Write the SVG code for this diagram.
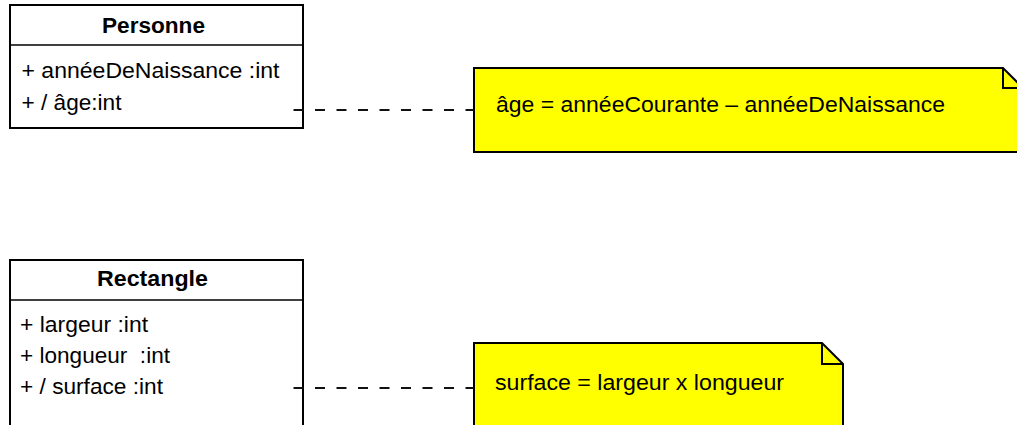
<svg xmlns="http://www.w3.org/2000/svg" width="1017" height="425" viewBox="0 0 1017 425">
<style>
.box{fill:#ffffff;stroke:#000;stroke-width:2}
.sep{stroke:#000;stroke-width:1.6}
.note{fill:#ffff00;stroke:#000;stroke-width:2;stroke-linejoin:miter}
.fold{fill:none;stroke:#000;stroke-width:2}
.t{font-family:"Liberation Sans",Arial,sans-serif;font-size:22px;fill:#000}
.b{font-weight:bold}
.dash{stroke:#111;stroke-width:1.8;stroke-dasharray:10 11.5;fill:none}
</style>
<rect width="1017" height="425" fill="#ffffff"/>
<g id="personne">
<rect class="box" x="10" y="5" width="293" height="123"/>
<line class="sep" x1="10" y1="45" x2="303" y2="45"/>
<text class="t b" x="102" y="33" textLength="103" lengthAdjust="spacingAndGlyphs">Personne</text>
<text class="t" x="21.5" y="78" textLength="258" lengthAdjust="spacingAndGlyphs" xml:space="preserve">+ annéeDeNaissance :int</text>
<text class="t" x="21.5" y="110" textLength="100" lengthAdjust="spacingAndGlyphs" xml:space="preserve">+ / âge:int</text>
</g>
<g id="note-age">
<path class="note" d="M474,68 L1003,68 L1023,88 L1023,152 L474,152 Z"/>
<polyline class="fold" points="1003,68 1003,88 1023,88"/>
<text class="t" x="496" y="112" textLength="449" lengthAdjust="spacingAndGlyphs">âge = annéeCourante – annéeDeNaissance</text>
</g>
<g id="rectangle">
<rect class="box" x="10" y="260" width="293" height="190"/>
<line class="sep" x1="10" y1="300" x2="303" y2="300"/>
<text class="t b" x="97" y="286" textLength="111" lengthAdjust="spacingAndGlyphs">Rectangle</text>
<text class="t" x="20" y="332" textLength="128" lengthAdjust="spacingAndGlyphs" xml:space="preserve">+ largeur :int</text>
<text class="t" x="20" y="363" textLength="150" lengthAdjust="spacingAndGlyphs" xml:space="preserve">+ longueur  :int</text>
<text class="t" x="20" y="394" textLength="143" lengthAdjust="spacingAndGlyphs" xml:space="preserve">+ / surface :int</text>
</g>
<g id="note-surface">
<path class="note" d="M474,343 L822,343 L843,364 L843,450 L474,450 Z"/>
<polyline class="fold" points="822,343 822,364 843,364"/>
<text class="t" x="495" y="390" textLength="289" lengthAdjust="spacingAndGlyphs">surface = largeur x longueur</text>
</g>
<g id="connectors">
<line class="dash" x1="293.5" y1="110" x2="474" y2="110"/>
<line class="dash" x1="293.5" y1="388" x2="474" y2="388"/>
</g>
</svg>
